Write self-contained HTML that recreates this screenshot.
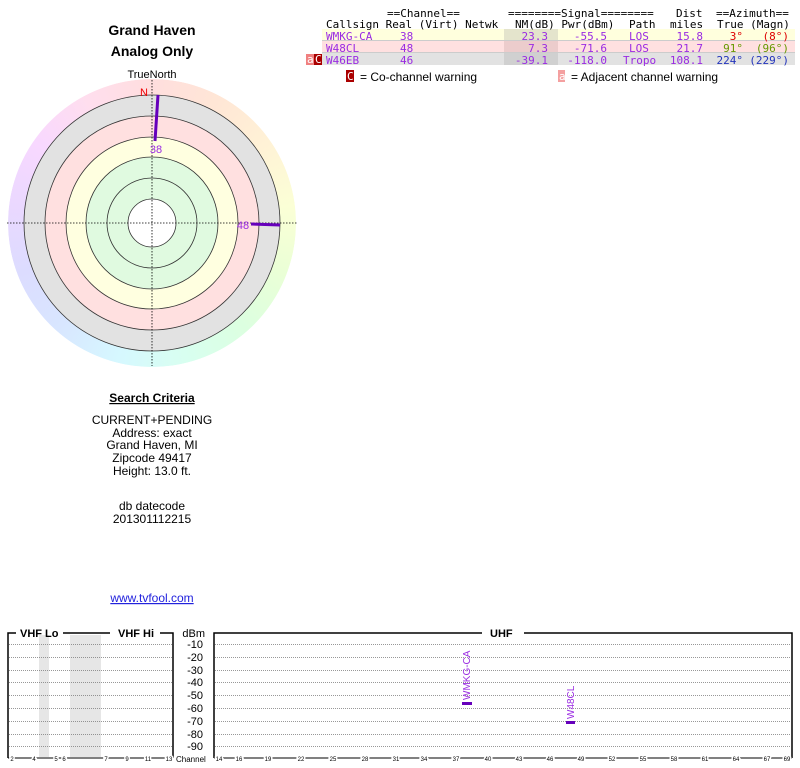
<!DOCTYPE html>
<html><head><style>
body{margin:0;background:#fff;width:800px;height:768px;overflow:hidden}
svg{display:block}
.m{font-family:"DejaVu Sans Mono","Liberation Mono",monospace;font-size:11px}
.s{font-family:"Liberation Sans",sans-serif}
</style></head><body>
<svg width="800" height="768" xmlns="http://www.w3.org/2000/svg">
<defs>
<clipPath id="ring"><path d="M152,79 a144,144 0 1,0 0.01,0 Z M152,95 a128,128 0 1,1 -0.01,0 Z" clip-rule="evenodd"/></clipPath>
</defs>
<!-- titles -->
<text x="152" y="35" text-anchor="middle" class="s" font-size="14" font-weight="bold">Grand Haven</text>
<text x="152" y="56" text-anchor="middle" class="s" font-size="14" font-weight="bold">Analog Only</text>
<text x="152" y="78" text-anchor="middle" class="s" font-size="11">TrueNorth</text>
<!-- polar -->
<foreignObject x="8" y="79" width="288" height="288" clip-path="url(#ring)">
<div xmlns="http://www.w3.org/1999/xhtml" style="width:288px;height:288px;border-radius:50%;background:conic-gradient(#ffdede,#ffe6d6,#fff2d6,#fbffd6,#eaffd6,#dcffe0,#d8fff0,#d6f8ff,#d8e6ff,#dcdcff,#ead8ff,#f8d8ff,#ffdeee,#ffdede)"></div>
</foreignObject>
<circle cx="152" cy="223" r="128" fill="#e2e2e2" stroke="#333" stroke-width="0.8"/>
<circle cx="152" cy="223" r="107" fill="#ffe0e0" stroke="#333" stroke-width="0.8"/>
<circle cx="152" cy="223" r="86" fill="#ffffe0" stroke="#333" stroke-width="0.8"/>
<circle cx="152" cy="223" r="66" fill="#e0fae0" stroke="#333" stroke-width="0.8"/>
<circle cx="152" cy="223" r="45" fill="#e0fae0" stroke="#333" stroke-width="0.8"/>
<circle cx="152" cy="223" r="24" fill="#fff" stroke="#333" stroke-width="0.8"/>
<line x1="7" y1="223" x2="297" y2="223" stroke="#000" stroke-width="0.8" stroke-dasharray="1.5,1.5"/>
<line x1="152" y1="80" x2="152" y2="366" stroke="#000" stroke-width="0.8" stroke-dasharray="1.5,1.5"/>
<text x="144" y="96" class="s" font-size="11" fill="#e00" text-anchor="middle">N</text>
<line x1="158" y1="95" x2="155" y2="141" stroke="#6600bb" stroke-width="3"/>
<text x="156" y="153" class="s" font-size="11" fill="#9a2be2" text-anchor="middle">38</text>
<line x1="251" y1="224" x2="280" y2="225" stroke="#6600bb" stroke-width="3"/>
<text x="243" y="229" class="s" font-size="11" fill="#9a2be2" text-anchor="middle">48</text>
<!-- search criteria -->
<text x="152" y="402" text-anchor="middle" class="s" font-size="12" font-weight="bold" text-decoration="underline">Search Criteria</text>
<g class="s" font-size="12" text-anchor="middle">
<text x="152" y="424">CURRENT+PENDING</text>
<text x="152" y="437">Address: exact</text>
<text x="152" y="449">Grand Haven, MI</text>
<text x="152" y="462">Zipcode 49417</text>
<text x="152" y="475">Height: 13.0 ft.</text>
<text x="152" y="510">db datecode</text>
<text x="152" y="523">201301112215</text>
<text x="152" y="602" fill="#2222dd" text-decoration="underline">www.tvfool.com</text>
</g>
<!-- table -->
<rect x="322" y="29" width="473" height="11" fill="#ffffdd"/>
<rect x="322" y="41" width="473" height="11" fill="#ffe0e0"/>
<rect x="322" y="53" width="473" height="12" fill="#e2e2e2"/>
<rect x="504" y="29" width="54" height="11" fill="#e4e4cc"/>
<rect x="504" y="41" width="54" height="11" fill="#eccccc"/>
<rect x="504" y="53" width="54" height="12" fill="#d0d0d0"/>
<line x1="322" y1="40.5" x2="795" y2="40.5" stroke="#ccc"/>
<line x1="322" y1="52.5" x2="795" y2="52.5" stroke="#ccc"/>
<g class="m" fill="#000">
<text x="387" y="17">==Channel==</text>
<text x="508" y="17">========Signal========</text>
<text x="676" y="17">Dist</text>
<text x="716" y="17">==Azimuth==</text>
<text x="326" y="28">Callsign Real (Virt) Netwk</text>
<text x="515" y="28">NM(dB) Pwr(dBm)</text>
<text x="629" y="28">Path</text>
<text x="670" y="28">miles</text>
<text x="717" y="28">True (Magn)</text>
</g>
<g class="m" fill="#9a2be2">
<text x="326" y="40">WMKG-CA</text><text x="400" y="40">38</text>
<text x="326" y="52">W48CL</text><text x="400" y="52">48</text>
<text x="326" y="64">W46EB</text><text x="400" y="64">46</text>
<g text-anchor="end">
<text x="548" y="40">23.3</text><text x="607" y="40">-55.5</text><text x="703" y="40">15.8</text>
<text x="548" y="52">7.3</text><text x="607" y="52">-71.6</text><text x="703" y="52">21.7</text>
<text x="548" y="64">-39.1</text><text x="607" y="64">-118.0</text><text x="703" y="64">108.1</text>
</g>
<text x="629" y="40">LOS</text><text x="629" y="52">LOS</text><text x="623" y="64">Tropo</text>
</g>
<g class="m" text-anchor="end">
<text x="743" y="40" fill="#dd0000">3°</text><text x="789" y="40" fill="#dd0000">(8°)</text>
<text x="743" y="52" fill="#669900">91°</text><text x="789" y="52" fill="#669900">(96°)</text>
<text x="743" y="64" fill="#2233bb">224°</text><text x="789" y="64" fill="#2233bb">(229°)</text>
</g>
<rect x="306" y="54" width="8" height="11" fill="#f08080"/><text x="307" y="63" class="m" fill="#fff" font-size="10">a</text>
<rect x="314" y="54" width="8" height="11" fill="#aa0000"/><text x="315" y="63" class="m" fill="#fff" font-size="10">C</text>
<rect x="346" y="70" width="8" height="12" fill="#aa0000"/><text x="347" y="80" class="m" fill="#fff" font-size="10">C</text>
<text x="360" y="81" class="s" font-size="12">= Co-channel warning</text>
<rect x="558" y="70" width="7" height="12" fill="#f4a0a0"/><text x="559" y="80" class="m" fill="#fff" font-size="10">a</text>
<text x="571" y="81" class="s" font-size="12">= Adjacent channel warning</text>
<!-- bottom chart -->
<rect x="39" y="635" width="10" height="122" fill="#e6e6e6"/>
<rect x="70" y="635" width="31" height="122" fill="#e6e6e6"/>
<g stroke="#777" stroke-width="0.8" stroke-dasharray="1,1">
<line x1="9" y1="644.5" x2="172" y2="644.5"/><line x1="215" y1="644.5" x2="791" y2="644.5"/>
<line x1="9" y1="657.5" x2="172" y2="657.5"/><line x1="215" y1="657.5" x2="791" y2="657.5"/>
<line x1="9" y1="670.5" x2="172" y2="670.5"/><line x1="215" y1="670.5" x2="791" y2="670.5"/>
<line x1="9" y1="682.5" x2="172" y2="682.5"/><line x1="215" y1="682.5" x2="791" y2="682.5"/>
<line x1="9" y1="695.5" x2="172" y2="695.5"/><line x1="215" y1="695.5" x2="791" y2="695.5"/>
<line x1="9" y1="708.5" x2="172" y2="708.5"/><line x1="215" y1="708.5" x2="791" y2="708.5"/>
<line x1="9" y1="721.5" x2="172" y2="721.5"/><line x1="215" y1="721.5" x2="791" y2="721.5"/>
<line x1="9" y1="734.5" x2="172" y2="734.5"/><line x1="215" y1="734.5" x2="791" y2="734.5"/>
<line x1="9" y1="746.5" x2="172" y2="746.5"/><line x1="215" y1="746.5" x2="791" y2="746.5"/>
</g>
<g fill="none" stroke="#000" stroke-width="1.5">
<path d="M8,758 V633 H16 M63,633 H110 M160,633 H173 V758"/>
<path d="M214,758 V633 H482 M524,633 H792 V758"/>
</g>
<line x1="8" y1="758" x2="173" y2="758" stroke="#000" stroke-width="1"/>
<line x1="214" y1="758" x2="792" y2="758" stroke="#000" stroke-width="1"/>
<g class="s" font-size="11" font-weight="bold">
<text x="20" y="637">VHF Lo</text><text x="118" y="637">VHF Hi</text><text x="490" y="637">UHF</text>
</g>
<g class="s" font-size="11" text-anchor="end">
<text x="205" y="637">dBm</text>
<text x="203" y="648">-10</text><text x="203" y="661">-20</text><text x="203" y="674">-30</text>
<text x="203" y="686">-40</text><text x="203" y="699">-50</text><text x="203" y="712">-60</text>
<text x="203" y="725">-70</text><text x="203" y="738">-80</text><text x="203" y="750">-90</text>
</g>
<text x="176" y="762" class="s" font-size="8">Channel</text>
<g class="s" font-size="6" text-anchor="middle" fill="#000" style="paint-order:stroke" stroke="#fff" stroke-width="3">
<text x="12" y="761">2</text><text x="34" y="761">4</text><text x="56" y="761">5</text><text x="64" y="761">6</text>
<text x="106" y="761">7</text><text x="127" y="761">9</text><text x="148" y="761">11</text><text x="169" y="761">13</text>
<text x="219" y="761">14</text><text x="239" y="761">16</text><text x="268" y="761">19</text><text x="301" y="761">22</text>
<text x="333" y="761">25</text><text x="365" y="761">28</text><text x="396" y="761">31</text><text x="424" y="761">34</text>
<text x="456" y="761">37</text><text x="488" y="761">40</text><text x="519" y="761">43</text><text x="550" y="761">46</text>
<text x="581" y="761">49</text><text x="612" y="761">52</text><text x="643" y="761">55</text><text x="674" y="761">58</text>
<text x="705" y="761">61</text><text x="736" y="761">64</text><text x="767" y="761">67</text><text x="787" y="761">69</text>
</g>
<rect x="462" y="702" width="10" height="3" fill="#6600bb"/>
<rect x="566" y="721" width="9" height="3" fill="#6600bb"/>
<text transform="translate(470,700) rotate(-90)" class="s" font-size="10" fill="#9a2be2">WMKG-CA</text>
<text transform="translate(574,719) rotate(-90)" class="s" font-size="10" fill="#9a2be2">W48CL</text>
</svg>
</body></html>
